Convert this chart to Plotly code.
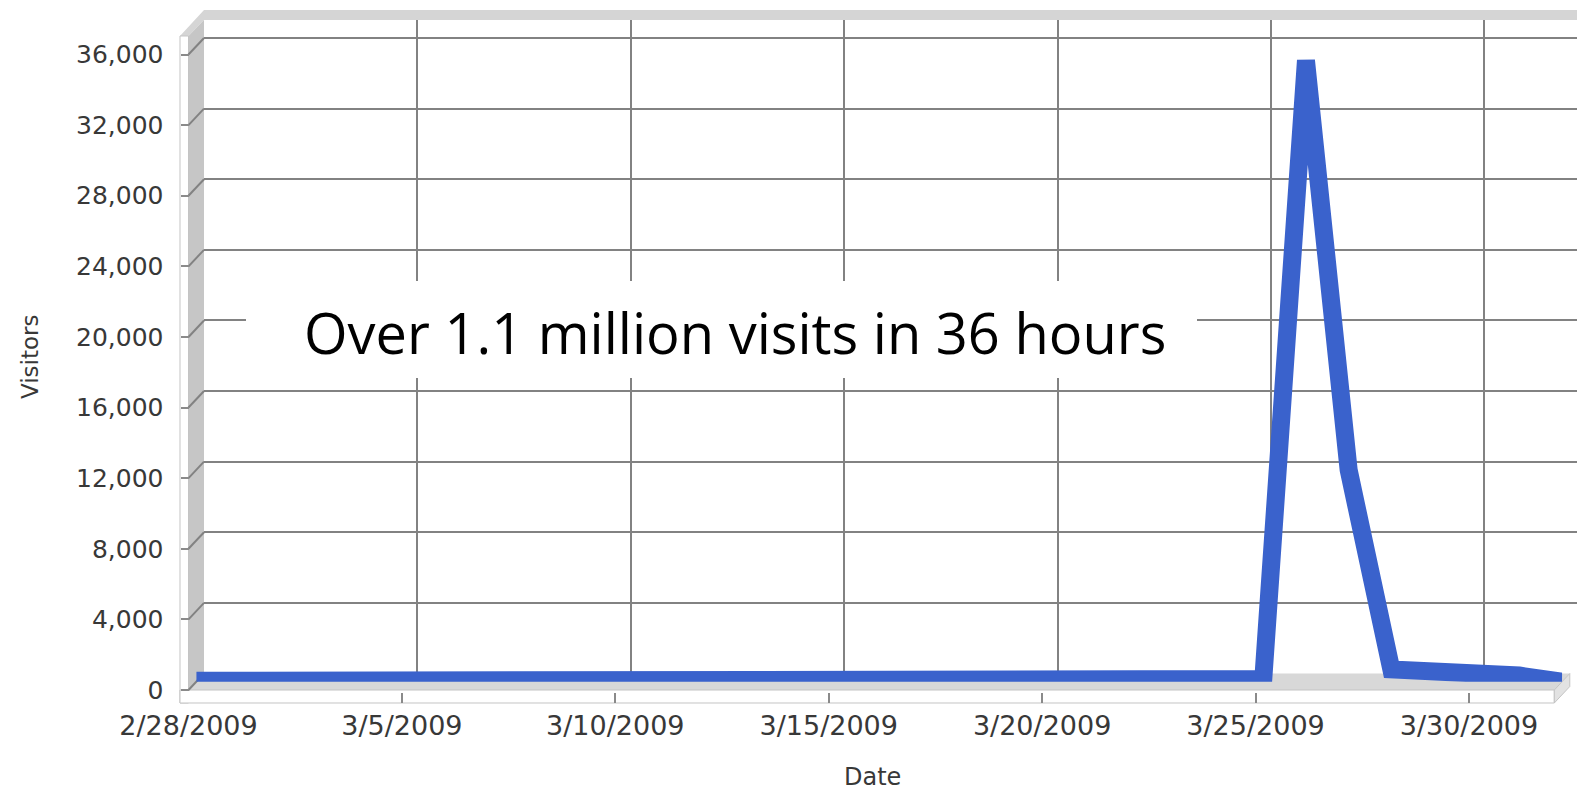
import pandas as pd
import plotly.graph_objects as go

# ---------------- data ----------------
dates = pd.date_range("2009-02-28", "2009-04-01", freq="D")
visitors = [
    50,                                                     # 2/28
    50, 100, 220, 150, 50, 50, 50, 100, 220, 120,           # 3/1 - 3/10
    50, 50, 50, 50, 50, 60, 150, 250, 120, 250,             # 3/11 - 3/20
    150, 250, 150, 250, 150, 35200, 12000, 700, 600, 550,   # 3/21 - 3/30
    350,                                                    # 3/31
    0,                                                      # 4/1
]
x_tick_dates = pd.date_range("2009-02-28", "2009-03-30", freq="5D")
x_tick_labels = [f"{d.month}/{d.day}/{d.year}" for d in x_tick_dates]
grid_dates = x_tick_dates[1:]
y_ticks = list(range(0, 36001, 4000))
annotation_text = "Over 1.1 million visits in 36 hours"

# ---------------- geometry (pixels) ----------------
W, H = 1577, 794
def fx(px): return px / W
def fy(py): return (H - py) / H

x0_px, x1_px = 188.5, 1554.3          # front: 2/28 .. 4/1
y0_px, ytop_px = 690.0, 54.5          # front: 0 .. 36000
DX, DY = 15.5, -16.5                  # 3-D depth offset
ppd = (x1_px - x0_px) / (len(dates) - 1)
ppv = (y0_px - ytop_px) / 36000.0

d_start, d_end = dates[0], dates[-1]

fig = go.Figure()

# front subplot (ticks + labels only)
fig.add_trace(go.Scatter(x=dates, y=visitors, mode="lines", line=dict(width=0, color="rgba(0,0,0,0)"),
                         hoverinfo="skip", showlegend=False, xaxis="x", yaxis="y"))
# back wall subplot (gridlines)
fig.add_trace(go.Scatter(x=dates, y=visitors, mode="lines", line=dict(width=0, color="rgba(0,0,0,0)"),
                         hoverinfo="skip", showlegend=False, xaxis="x2", yaxis="y2"))
# ribbon (mid depth)
fig.add_trace(go.Scatter(x=dates, y=visitors, mode="lines",
                         line=dict(width=18, color="#3a62cc"),
                         showlegend=False, xaxis="x3", yaxis="y3"))

back_x_end_px = W
back_x_end = d_start + pd.Timedelta(days=(back_x_end_px - (x0_px + DX)) / ppd)
back_top_px = 20
back_y_top = (y0_px + DY - back_top_px) / ppv

tickfont = dict(family="DejaVu Sans", size=25, color="#383838")

fig.update_layout(
    width=W, height=H,
    margin=dict(l=0, r=0, t=0, b=0, pad=0, autoexpand=False),
    paper_bgcolor="white",
    plot_bgcolor="rgba(0,0,0,0)",
    showlegend=False,
    xaxis=dict(domain=[fx(x0_px), fx(x1_px)], range=[d_start, d_end],
               anchor="free", position=fy(703), automargin=False,
               tickvals=list(x_tick_dates), ticktext=x_tick_labels,
               ticks="inside", ticklen=10, tickwidth=2, tickcolor="#8a8a8a",
               showgrid=False, zeroline=False, showline=False,
               tickfont=dict(family="DejaVu Sans", size=27, color="#383838"),
               ticklabelstandoff=4),
    yaxis=dict(domain=[fy(y0_px), fy(ytop_px)], range=[0, 36000],
               anchor="free", position=fx(x0_px), automargin=False,
               tickvals=y_ticks, tickformat=",d",
               ticks="outside", ticklen=8, tickwidth=2, tickcolor="#8a8a8a",
               showgrid=False, zeroline=False, showline=False,
               tickfont=tickfont, ticklabelstandoff=12),
    xaxis2=dict(domain=[fx(x0_px + DX), fx(back_x_end_px)], range=[d_start, back_x_end],
                anchor="y2", automargin=False, tickvals=list(grid_dates), showticklabels=False, ticks="",
                showgrid=True, gridcolor="#828282", gridwidth=2,
                zeroline=False, showline=False),
    yaxis2=dict(domain=[fy(y0_px + DY), fy(back_top_px)], range=[0, back_y_top],
                anchor="x2", automargin=False, tickvals=y_ticks, showticklabels=False, ticks="",
                showgrid=True, gridcolor="#828282", gridwidth=2,
                zeroline=False, showline=False),
    xaxis3=dict(domain=[fx(x0_px + DX / 2), fx(x1_px + DX / 2)], range=[d_start, d_end],
                anchor="y3", visible=False, automargin=False),
    yaxis3=dict(domain=[fy(y0_px + DY / 2), fy(ytop_px + DY / 2)], range=[0, 36000],
                anchor="x3", visible=False, automargin=False),
)

shapes = []
def poly(pts, fill, line="rgba(0,0,0,0)", lw=0, layer="below"):
    path = "M " + " L ".join(f"{fx(px):.5f},{fy(py):.5f}" for px, py in pts) + " Z"
    shapes.append(dict(type="path", xref="paper", yref="paper", path=path,
                       fillcolor=fill, line=dict(color=line, width=lw), layer=layer))

bx0 = x0_px + DX
by0 = y0_px + DY
# top band of back wall + top of left wall
poly([(180, 36), (bx0, 10), (W, 10), (W, 20), (bx0, 20), (x0_px, 36)], "#d5d5d5")
# left wall side face
poly([(x0_px, 36), (bx0, 20), (bx0, by0), (x0_px, y0_px)], "#c6c6c6")
# left wall front face
poly([(180, 36), (x0_px, 36), (x0_px, 703), (180, 703)], "white", "#c4c4c4", 1)
# floor top face
poly([(x0_px, y0_px), (bx0, by0), (x1_px + DX, by0), (x1_px, y0_px)], "#d8d8d8")
# floor front face
poly([(180, y0_px), (x1_px, y0_px), (x1_px, 703), (180, 703)], "white", "#c4c4c4", 1)
# floor right face
poly([(x1_px, y0_px), (x1_px + DX, by0), (x1_px + DX, by0 + 13), (x1_px, 703)], "#e2e2e2", "#c4c4c4", 1)
# diagonal gridlines on left wall
for v in y_ticks:
    yp = y0_px - v * ppv
    shapes.append(dict(type="line", xref="paper", yref="paper",
                       x0=fx(x0_px), y0=fy(yp), x1=fx(bx0), y1=fy(yp + DY),
                       line=dict(color="#828282", width=2), layer="below"))
# white box behind annotation
shapes.append(dict(type="rect", xref="paper", yref="paper",
                   x0=fx(246), x1=fx(1197), y0=fy(378), y1=fy(281),
                   fillcolor="white", line=dict(width=0), layer="above"))
fig.update_layout(shapes=shapes)

fig.add_annotation(x=fx(735), y=fy(332), xref="paper", yref="paper", showarrow=False,
                   xanchor="center", yanchor="middle",
                   text=annotation_text, font=dict(family="Open Sans", size=56, color="black"))
fig.add_annotation(x=fx(30), y=fy(357), xref="paper", yref="paper", showarrow=False,
                   xanchor="center", yanchor="middle",
                   text="Visitors", textangle=-90,
                   font=dict(family="DejaVu Sans", size=23, color="#383838"))
fig.add_annotation(x=fx(873), y=fy(777), xref="paper", yref="paper", showarrow=False,
                   xanchor="center", yanchor="middle",
                   text="Date", font=dict(family="DejaVu Sans", size=24, color="#383838"))

fig.write_html("out.html", config={"displayModeBar": False},
               post_script="document.body.style.margin='0px';")
